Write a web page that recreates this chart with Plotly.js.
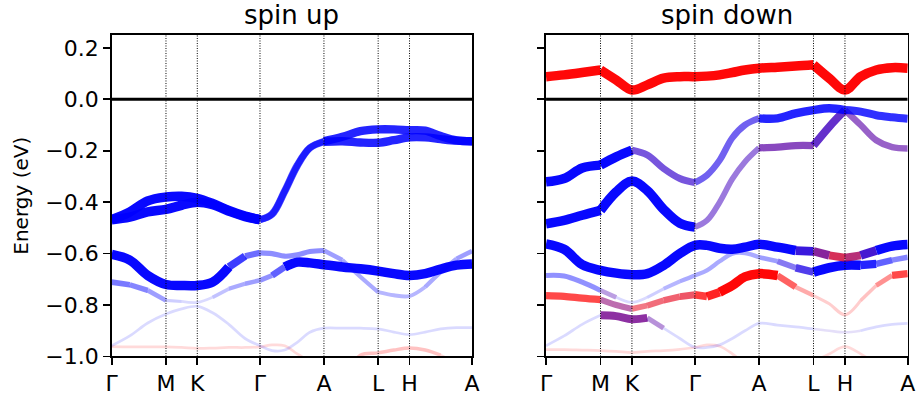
<!DOCTYPE html>
<html>
<head>
<meta charset="utf-8">
<script src="https://cdn.plot.ly/plotly-3.0.1.min.js"></script>
<style>
  html, body { margin: 0; padding: 0; background: #fff; }
  #chart { width: 918px; height: 398px; }
  .js-line { stroke-linejoin: round; }
</style>
</head>
<body>
<div id="chart"></div>
<script>
// k-path positions (fraction of path length) at which band energies were read
const kpts = [0, 0.05, 0.10, 0.1506, 0.194, 0.2375, 0.28, 0.325, 0.37, 0.4115,
  0.445, 0.48, 0.515, 0.55, 0.589, 0.64, 0.69, 0.7395, 0.783, 0.8265,
  0.87, 0.913, 0.957, 1.0];
const kTickPos = [0, 0.1506, 0.2375, 0.4115, 0.589, 0.7395, 0.8265, 1.0];
const kTickLabels = ['Γ', 'M', 'K', 'Γ', 'A', 'L', 'H', 'A'];
const eTickVals = [-1.0, -0.8, -0.6, -0.4, -0.2, 0.0, 0.2];
const eTickText = ['\u22121.0', '\u22120.8', '\u22120.6', '\u22120.4', '\u22120.2', '0.0', '0.2'];
const panelTitles = ['spin up', 'spin down'];
const yTitle = 'Energy (eV)';

// Each band: energies (eV) at kpts; weight (0..1) and red fraction (0 blue .. 1 red)
// of the path segment that starts at that k-point.
// ---- spin up
const up1E = [-0.468, -0.438, -0.395, -0.380, -0.377, -0.385, -0.405, -0.432, -0.454, -0.468,
  -0.445, -0.355, -0.255, -0.188, -0.163, -0.146, -0.124, -0.117, -0.117, -0.120,
  -0.122, -0.143, -0.160, -0.163];
const up1W = [1, 1, 1, 1, 1, 1, 1, 1, 1, 0.65, 0.65, 0.65, 0.65, 0.65, 0.85, 0.85, 0.85, 0.85, 0.85, 0.85, 0.85, 0.85, 0.85, 0.85];
const up2E = [-0.468, -0.458, -0.438, -0.428, -0.412, -0.400, -0.410, -0.435, -0.456, -0.468,
  -0.448, -0.360, -0.260, -0.190, -0.165, -0.163, -0.168, -0.169, -0.159, -0.148,
  -0.148, -0.155, -0.161, -0.163];
const up2W = [1, 1, 1, 1, 1, 1, 1, 1, 1, 0.65, 0.65, 0.65, 0.65, 0.65, 0.85, 0.85, 0.85, 0.85, 0.85, 0.85, 0.85, 0.85, 0.85, 0.85];
const up3E = [-0.603, -0.625, -0.685, -0.720, -0.724, -0.724, -0.711, -0.652, -0.610, -0.597,
  -0.600, -0.610, -0.605, -0.592, -0.588, -0.625, -0.690, -0.750, -0.762, -0.765,
  -0.730, -0.672, -0.620, -0.590];
const up3W = [1, 1, 1, 1, 1, 1, 1, 0.75, 0.55, 0.42, 0.42, 0.42, 0.42, 0.42, 0.35, 0.3, 0.3, 0.25, 0.25, 0.25, 0.3, 0.3, 0.35, 0.35];
const up4E = [-0.711, -0.721, -0.743, -0.782, -0.786, -0.790, -0.770, -0.737, -0.717, -0.704,
  -0.685, -0.652, -0.633, -0.636, -0.643, -0.652, -0.659, -0.668, -0.678, -0.685,
  -0.678, -0.660, -0.645, -0.640];
const up4W = [0.5, 0.45, 0.35, 0.15, 0.1, 0.1, 0.2, 0.3, 0.35, 0.4, 0.6, 1, 1, 1, 1, 1, 1, 1, 1, 1, 1, 1, 1, 1];
const up5E = [-0.958, -0.920, -0.870, -0.835, -0.815, -0.805, -0.830, -0.875, -0.930, -0.958,
  -0.977, -0.975, -0.945, -0.906, -0.890, -0.890, -0.890, -0.893, -0.905, -0.915,
  -0.905, -0.893, -0.888, -0.888];
const up5W = [0.1, 0.1, 0.1, 0.1, 0.1, 0.1, 0.1, 0.1, 0.1, 0.1, 0.1, 0.1, 0.1, 0.1, 0.1, 0.1, 0.1, 0.1, 0.1, 0.1, 0.1, 0.1, 0.1, 0.1];
const up6E = [-0.962, -0.963, -0.963, -0.963, -0.965, -0.968, -0.967, -0.965, -0.965, -0.963,
  -0.955, -0.958, -0.990, -1.020, -1.060, -1.100, -0.995, -0.986, -0.975, -0.967,
  -0.975, -0.995, -1.030, -1.080];
const up6W = [0.1, 0.1, 0.1, 0.1, 0.1, 0.1, 0.1, 0.1, 0.1, 0.1, 0.1, 0.1, 0.1, 0.1, 0.1, 0.2, 0.2, 0.2, 0.2, 0.2, 0.2, 0.1, 0.1, 0.1];

// ---- spin down
const dn1E = [0.088, 0.095, 0.104, 0.114, 0.075, 0.036, 0.056, 0.082, 0.088, 0.088,
  0.090, 0.095, 0.104, 0.114, 0.121, 0.125, 0.129, 0.134, 0.082, 0.036,
  0.088, 0.114, 0.123, 0.121];
const dn1W = [1, 1, 1, 1, 1, 1, 1, 1, 1, 1, 1, 1, 1, 1, 1, 1, 1, 1, 1, 1, 1, 1, 1, 1];
const dn1C = [1, 1, 1, 1, 1, 1, 1, 1, 1, 1, 1, 1, 1, 1, 1, 1, 1, 1, 1, 1, 1, 1, 1, 1];
const dn2E = [-0.321, -0.308, -0.267, -0.256, -0.224, -0.198, -0.217, -0.269, -0.308, -0.324,
  -0.295, -0.237, -0.150, -0.100, -0.074, -0.074, -0.055, -0.042, -0.035, -0.042,
  -0.048, -0.062, -0.070, -0.076];
const dn2W = [1, 1, 1, 1, 1, 0.65, 0.65, 0.65, 0.65, 0.6, 0.6, 0.6, 0.6, 0.6, 0.85, 0.85, 0.85, 0.85, 0.85, 0.8, 0.8, 0.8, 0.8, 0.8];
const dn2C = [0, 0, 0, 0, 0, 0.2, 0.2, 0.2, 0.2, 0.1, 0.1, 0.1, 0.1, 0.1, 0, 0, 0, 0, 0, 0, 0, 0, 0, 0];
const dn3E = [-0.484, -0.471, -0.451, -0.432, -0.360, -0.318, -0.355, -0.428, -0.482, -0.497,
  -0.471, -0.400, -0.310, -0.243, -0.189, -0.186, -0.180, -0.180, -0.107, -0.042,
  -0.100, -0.159, -0.186, -0.191];
const dn3W = [1, 1, 1, 1, 1, 1, 1, 1, 1, 0.5, 0.5, 0.5, 0.5, 0.5, 0.7, 0.7, 0.7, 0.8, 0.8, 0.6, 0.6, 0.6, 0.6, 0.6];
const dn3C = [0, 0, 0, 0, 0, 0, 0, 0, 0, 0.25, 0.25, 0.25, 0.25, 0.25, 0.35, 0.35, 0.35, 0.25, 0.25, 0.35, 0.35, 0.35, 0.35, 0.35];
const dn4E = [-0.562, -0.583, -0.643, -0.665, -0.676, -0.682, -0.678, -0.646, -0.600, -0.568,
  -0.568, -0.579, -0.583, -0.575, -0.564, -0.575, -0.588, -0.591, -0.607, -0.616,
  -0.607, -0.588, -0.571, -0.565];
const dn4W = [1, 1, 1, 1, 1, 1, 1, 1, 1, 1, 1, 1, 1, 1, 1, 1, 0.9, 0.85, 0.8, 0.8, 0.9, 1, 1, 1];
const dn4C = [0, 0, 0, 0, 0, 0, 0, 0, 0, 0, 0, 0, 0, 0, 0, 0, 0.15, 0.45, 0.8, 0.65, 0.2, 0, 0, 0];
const dn5E = [-0.685, -0.687, -0.711, -0.743, -0.770, -0.790, -0.770, -0.737, -0.708, -0.685,
  -0.665, -0.630, -0.600, -0.598, -0.614, -0.630, -0.655, -0.672, -0.655, -0.645,
  -0.645, -0.640, -0.625, -0.614];
const dn5W = [0.4, 0.4, 0.4, 0.35, 0.1, 0.1, 0.15, 0.25, 0.3, 0.3, 0.3, 0.3, 0.3, 0.3, 0.35, 0.5, 0.75, 1, 1, 1, 0.85, 0.6, 0.45, 0.4];
const dn5C = [0, 0, 0, 0.3, 0, 0, 0, 0, 0, 0, 0, 0, 0, 0, 0, 0.1, 0.1, 0, 0, 0, 0, 0, 0, 0];
const dn6E = [-0.763, -0.766, -0.773, -0.779, -0.800, -0.815, -0.802, -0.782, -0.767, -0.760,
  -0.767, -0.750, -0.724, -0.690, -0.678, -0.685, -0.730, -0.763, -0.795, -0.838,
  -0.782, -0.724, -0.685, -0.678];
const dn6W = [0.7, 0.7, 0.7, 0.55, 0.55, 0.5, 0.55, 0.6, 0.65, 0.75, 0.85, 1, 1, 1, 1, 0.6, 0.3, 0.15, 0.15, 0.15, 0.2, 0.4, 0.7, 0.9];
const dn6C = [1, 1, 1, 0.55, 0.55, 0.9, 0.9, 0.9, 0.9, 1, 1, 1, 1, 1, 1, 1, 1, 1, 1, 1, 1, 1, 1, 1];
const dn7E = [-0.958, -0.920, -0.875, -0.840, -0.843, -0.855, -0.850, -0.890, -0.930, -0.964,
  -0.965, -0.955, -0.930, -0.900, -0.871, -0.878, -0.885, -0.893, -0.900, -0.906,
  -0.900, -0.885, -0.875, -0.871];
const dn7W = [0.1, 0.1, 0.1, 0.8, 0.8, 0.8, 0.4, 0.1, 0.1, 0.1, 0.1, 0.1, 0.1, 0.1, 0.1, 0.1, 0.1, 0.08, 0.08, 0.08, 0.1, 0.1, 0.1, 0.1];
const dn7C = [0, 0, 0, 0.45, 0.45, 0.45, 0.35, 0, 0, 0, 0, 0, 0, 0, 0, 0, 0, 0.2, 0.2, 0.2, 0, 0, 0, 0];
const dn8E = [-0.973, -0.973, -0.975, -0.977, -0.980, -0.985, -0.980, -0.977, -0.972, -0.965,
  -0.955, -0.960, -0.990, -1.030, -1.080, -1.100, -1.060, -1.020, -0.990, -0.962,
  -0.990, -1.030, -1.080, -1.100];
const dn8W = [0.1, 0.1, 0.1, 0.1, 0.1, 0.1, 0.1, 0.1, 0.1, 0.1, 0.1, 0.1, 0.1, 0.1, 0.1, 0.1, 0.1, 0.1, 0.1, 0.1, 0.1, 0.1, 0.1, 0.1];

// ---------- drawing ----------
function colorOf(w, c) {
  const a = Math.min(0.97, 0.05 + 0.95 * w);
  const r = Math.round(255 * c), b = Math.round(255 * (1 - c));
  return 'rgba(' + r + ',0,' + b + ',' + a.toFixed(3) + ')';
}

function bandTraces(e, w, c, kinks, xa, ya) {
  const n = e.length;
  const cv = i => (Array.isArray(c) ? c[i] : c);
  const out = [];
  const push = (s, eIdx) => {
    const ww = w[s], cc = cv(s);
    if (ww <= 0) return;
    out.push({
      type: 'scatter', mode: 'lines', xaxis: xa, yaxis: ya,
      x: kpts.slice(s, eIdx + 1), y: e.slice(s, eIdx + 1),
      line: { shape: 'spline', smoothing: 1, width: 2 + 7.5 * ww, color: colorOf(ww, cc) },
      hoverinfo: 'skip', showlegend: false
    });
  };
  let start = 0;
  for (let i = 1; i < n - 1; i++) {
    if (w[i] !== w[start] || cv(i) !== cv(start) || kinks.indexOf(i) >= 0) {
      push(start, i);
      start = i;
    }
  }
  push(start, n - 1);
  return out;
}

const upBands = [
  [up6E, up6W, 1, []], [up5E, up5W, 0, []], [up4E, up4W, 0, []], [up3E, up3W, 0, []],
  [up2E, up2W, 0, []], [up1E, up1W, 0, []]
];
const dnBands = [
  [dn8E, dn8W, 1, []], [dn7E, dn7W, dn7C, []], [dn5E, dn5W, dn5C, []], [dn6E, dn6W, dn6C, []],
  [dn3E, dn3W, dn3C, [3, 17, 19]], [dn2E, dn2W, dn2C, [3]], [dn4E, dn4W, dn4C, []],
  [dn1E, dn1W, dn1C, [3, 17]]
];

let traces = [];
upBands.forEach(b => { traces = traces.concat(bandTraces(b[0], b[1], b[2], b[3], 'x', 'y')); });
dnBands.forEach(b => { traces = traces.concat(bandTraces(b[0], b[1], b[2], b[3], 'x2', 'y2')); });

const font = 'DejaVu Sans, sans-serif';
const shapes = [];
['x', 'x2'].forEach((xr, p) => {
  const yr = p === 0 ? 'y' : 'y2';
  kTickPos.slice(1, -1).forEach(k => {
    shapes.push({ type: 'line', xref: xr, yref: yr, x0: k, x1: k, y0: -1.0, y1: 0.25,
      line: { color: '#000', width: 1, dash: '1px,1.5px' } });
  });
  shapes.push({ type: 'line', xref: xr, yref: yr, x0: 0, x1: 1, y0: 0, y1: 0,
    line: { color: '#000', width: 3 } });
});

const xDom1 = [0.1217, 0.5142], xDom2 = [0.5948, 0.9888], yDom = [0.1043, 0.9121];
const xBase = {
  range: [0, 1], tickvals: kTickPos, ticktext: kTickLabels, ticks: 'outside', ticklen: 7,
  tickwidth: 1.6, tickcolor: '#000', showline: true, mirror: true, linecolor: '#000', linewidth: 1.6,
  showgrid: false, zeroline: false, tickfont: { family: font, size: 22, color: '#000' }, fixedrange: true
};
const yBase = {
  range: [-1.0, 0.25], tickvals: eTickVals, ticktext: eTickText, ticks: 'outside', ticklen: 7,
  tickwidth: 1.6, tickcolor: '#000', showline: true, mirror: true, linecolor: '#000', linewidth: 1.6,
  showgrid: false, zeroline: false, tickfont: { family: font, size: 22, color: '#000' }, domain: yDom,
  fixedrange: true
};

const layout = {
  width: 918, height: 398,
  margin: { l: 0, r: 0, t: 0, b: 0 },
  paper_bgcolor: '#fff', plot_bgcolor: '#fff',
  font: { family: font, color: '#000' },
  xaxis: Object.assign({}, xBase, { domain: xDom1, anchor: 'y' }),
  xaxis2: Object.assign({}, xBase, { domain: xDom2, anchor: 'y2' }),
  yaxis: Object.assign({}, yBase, { anchor: 'x' }),
  yaxis2: Object.assign({}, yBase, { anchor: 'x2', showticklabels: false }),
  shapes: shapes,
  annotations: [
    { text: panelTitles[0], xref: 'paper', yref: 'paper', x: (xDom1[0] + xDom1[1]) / 2, y: 1 - 15 / 398,
      xanchor: 'center', yanchor: 'middle', showarrow: false, font: { family: font, size: 26, color: '#000' } },
    { text: panelTitles[1], xref: 'paper', yref: 'paper', x: (xDom2[0] + xDom2[1]) / 2, y: 1 - 15 / 398,
      xanchor: 'center', yanchor: 'middle', showarrow: false, font: { family: font, size: 26, color: '#000' } },
    { text: yTitle, xref: 'paper', yref: 'paper', x: 21 / 918, y: (yDom[0] + yDom[1]) / 2,
      xanchor: 'center', yanchor: 'middle', textangle: -90, showarrow: false,
      font: { family: font, size: 20, color: '#000' } }
  ]
};

Plotly.newPlot('chart', traces, layout, { staticPlot: true, displayModeBar: false });
</script>
</body>
</html>
